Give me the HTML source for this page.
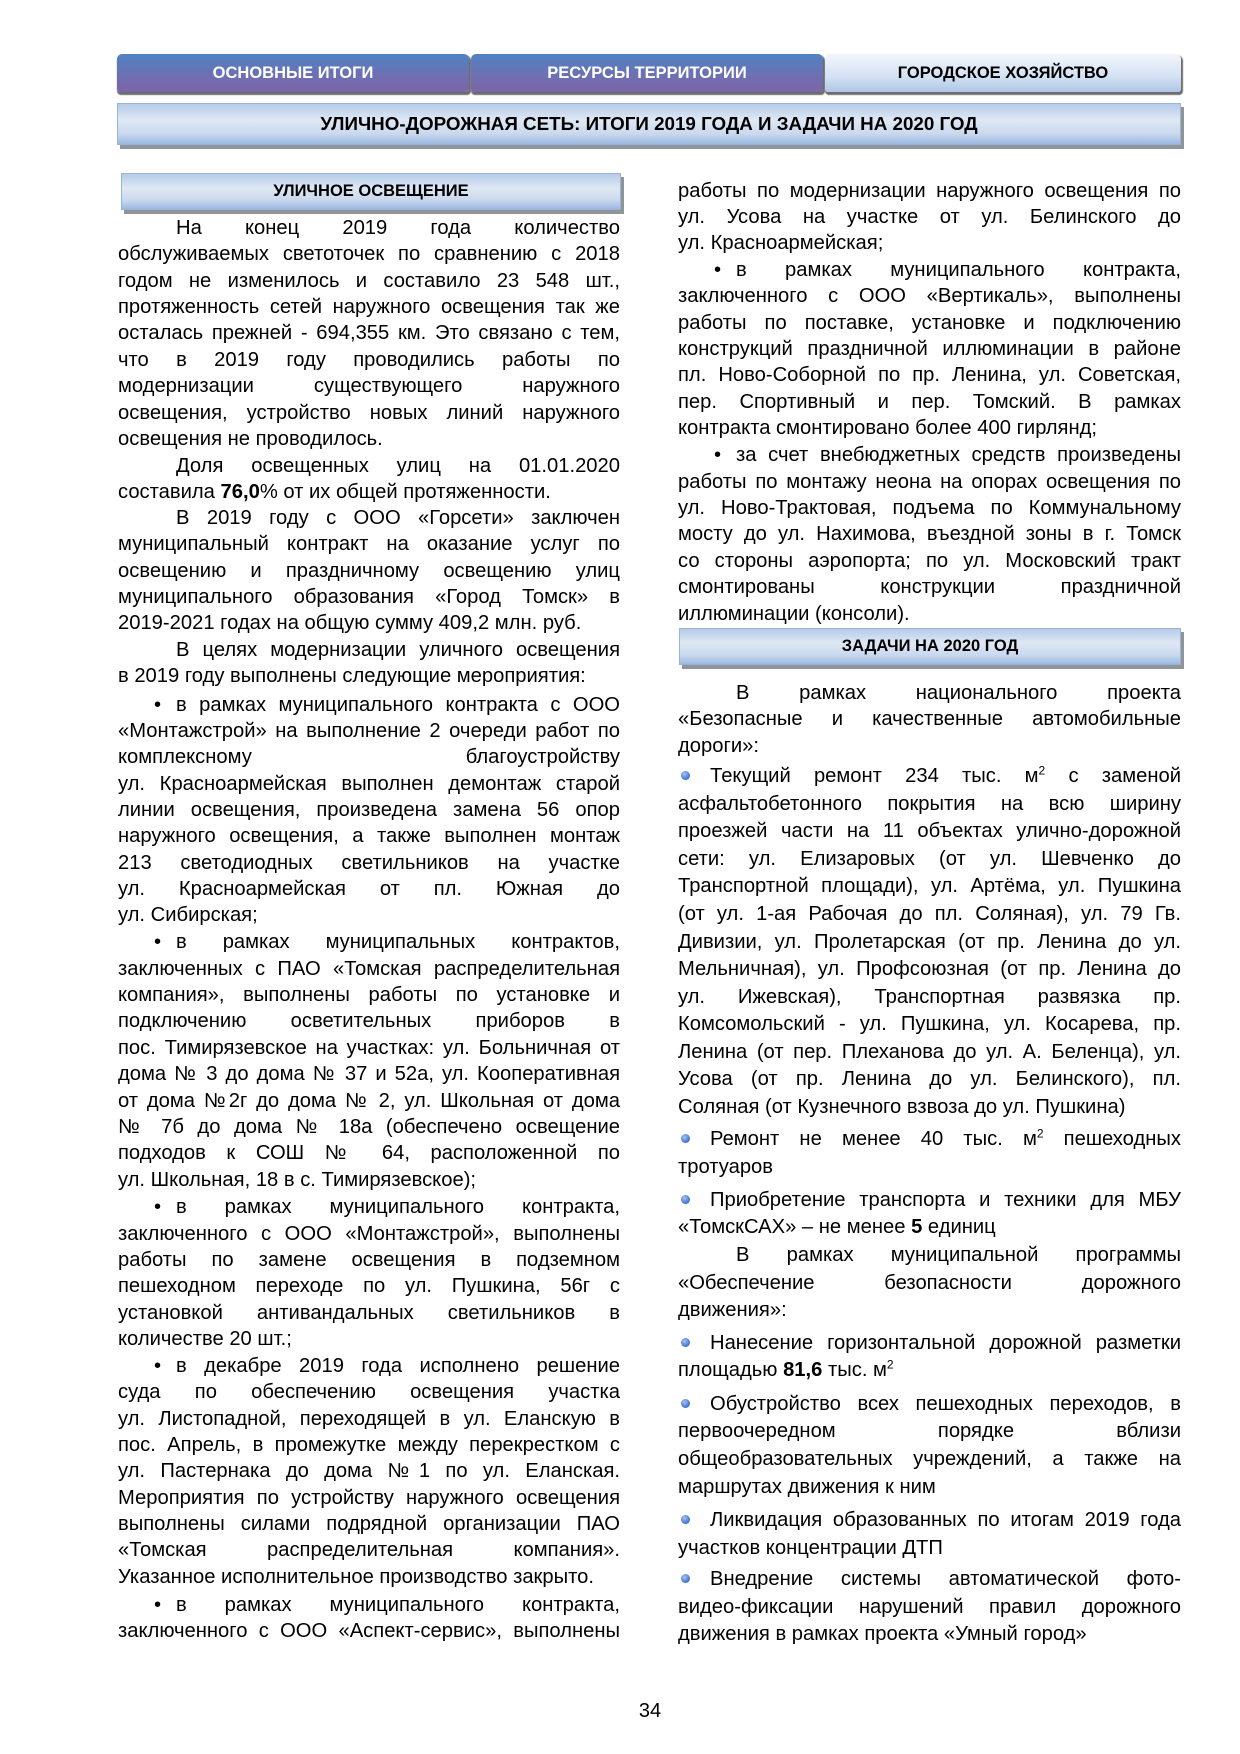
<!DOCTYPE html>
<html><head><meta charset="utf-8"><style>
body{margin:0;background:#fff;width:1240px;height:1754px;position:relative;overflow:hidden;font-family:"Liberation Sans",Arial,sans-serif;color:#000}
.tab{position:absolute;top:54px;height:38px;line-height:38px;text-align:center;font-weight:bold;font-size:16.5px;border-radius:5px 5px 3px 3px;box-shadow:1px 2px 1px 1px #6d6d6d}
.dk{background:linear-gradient(#4f82c2,#6f6fb2 60%,#7c65a6);color:#fff}
.lt{background:linear-gradient(#f2f6fb,#d3e1f2 60%,#aec6e6);color:#000}
.bar{position:absolute;background:linear-gradient(#b5cbe8,#dfe8f4 40%,#c9d8ee 75%,#9bb8e0);border:1px solid #9ab3d6;box-shadow:3px 4px 0 #8f9499;text-align:center;font-weight:bold;color:#000}
.p{position:absolute;font-size:20.2px;line-height:26.36px}
.p>div{text-align:justify;text-align-last:justify}
.p>div.e{text-align-last:left}
.L{left:118px;width:502px}
.R{left:678px;width:503px}
.i{padding-left:58px}
.b{padding-left:36px}
.sq{line-height:27.56px}
.dot{display:inline-block;width:9px;height:9px;border-radius:50%;background:radial-gradient(circle at 40% 35%,#a9c4f0,#3a6fd0 70%);margin:0 20px 2px 3px;vertical-align:middle}
.bu{display:inline-block;width:22px}
sup{font-size:12px;line-height:0}
</style></head><body>
<div class="tab dk" style="left:117px;width:352px">ОСНОВНЫЕ ИТОГИ</div>
<div class="tab dk" style="left:471px;width:352px">РЕСУРСЫ ТЕРРИТОРИИ</div>
<div class="tab lt" style="left:825px;width:356px">ГОРОДСКОЕ ХОЗЯЙСТВО</div>
<div class="bar" style="left:117px;top:103px;width:1062px;height:40px;line-height:40px;font-size:18.8px">УЛИЧНО-ДОРОЖНАЯ СЕТЬ: ИТОГИ 2019 ГОДА И ЗАДАЧИ НА 2020 ГОД</div>
<div class="bar" style="left:121px;top:173px;width:498px;height:35px;line-height:35px;font-size:16.5px">УЛИЧНОЕ ОСВЕЩЕНИЕ</div>
<div class="bar" style="left:679px;top:628px;width:500px;height:35px;line-height:35px;font-size:16.5px">ЗАДАЧИ НА 2020 ГОД</div>

<div class="p L" style="top:215px">
<div class="i">На конец 2019 года количество</div>
<div>обслуживаемых светоточек по сравнению с 2018</div>
<div>годом не изменилось и составило 23 548 шт.,</div>
<div>протяженность сетей наружного освещения так же</div>
<div>осталась прежней - 694,355 км. Это связано с тем,</div>
<div>что в 2019 году проводились работы по</div>
<div>модернизации существующего наружного</div>
<div>освещения, устройство новых линий наружного</div>
<div class="e">освещения не проводилось.</div>
</div>
<div class="p L" style="top:452.6px">
<div class="i">Доля освещенных улиц на 01.01.2020</div>
<div class="e">составила <b>76,0</b>% от их общей протяженности.</div>
</div>
<div class="p L" style="top:505px">
<div class="i">В 2019 году с ООО «Горсети» заключен</div>
<div>муниципальный контракт на оказание услуг по</div>
<div>освещению и праздничному освещению улиц</div>
<div>муниципального образования «Город Томск» в</div>
<div class="e">2019-2021 годах на общую сумму 409,2 млн. руб.</div>
</div>
<div class="p L" style="top:637px">
<div class="i">В целях модернизации уличного освещения</div>
<div class="e">в 2019 году выполнены следующие мероприятия:</div>
</div>
<div class="p L" style="top:691.5px">
<div class="b"><span class="bu">•</span>в рамках муниципального контракта с ООО</div>
<div>«Монтажстрой» на выполнение 2 очереди работ по</div>
<div>комплексному благоустройству</div>
<div>ул. Красноармейская выполнен демонтаж старой</div>
<div>линии освещения, произведена замена 56 опор</div>
<div>наружного освещения, а также выполнен монтаж</div>
<div>213 светодиодных светильников на участке</div>
<div>ул. Красноармейская от пл. Южная до</div>
<div class="e">ул. Сибирская;</div>
</div>
<div class="p L" style="top:929.4px">
<div class="b"><span class="bu">•</span>в рамках муниципальных контрактов,</div>
<div>заключенных с ПАО «Томская распределительная</div>
<div>компания», выполнены работы по установке и</div>
<div>подключению осветительных приборов в</div>
<div>пос. Тимирязевское на участках: ул. Больничная от</div>
<div>дома № 3 до дома № 37 и 52а, ул. Кооперативная</div>
<div>от дома №2г до дома № 2, ул. Школьная от дома</div>
<div>№ 7б до дома № 18а (обеспечено освещение</div>
<div>подходов к СОШ № 64, расположенной по</div>
<div class="e">ул. Школьная, 18 в с. Тимирязевское);</div>
</div>
<div class="p L" style="top:1194.2px">
<div class="b"><span class="bu">•</span>в рамках муниципального контракта,</div>
<div>заключенного с ООО «Монтажстрой», выполнены</div>
<div>работы по замене освещения в подземном</div>
<div>пешеходном переходе по ул. Пушкина, 56г с</div>
<div>установкой антивандальных светильников в</div>
<div class="e">количестве 20 шт.;</div>
</div>
<div class="p L" style="top:1352.8px">
<div class="b"><span class="bu">•</span>в декабре 2019 года исполнено решение</div>
<div>суда по обеспечению освещения участка</div>
<div>ул. Листопадной, переходящей в ул. Еланскую в</div>
<div>пос. Апрель, в промежутке между перекрестком с</div>
<div>ул. Пастернака до дома №1 по ул. Еланская.</div>
<div>Мероприятия по устройству наружного освещения</div>
<div>выполнены силами подрядной организации ПАО</div>
<div>«Томская распределительная компания».</div>
<div class="e">Указанное исполнительное производство закрыто.</div>
</div>
<div class="p L" style="top:1591.8px">
<div class="b"><span class="bu">•</span>в рамках муниципального контракта,</div>
<div>заключенного с ООО «Аспект-сервис», выполнены</div>
</div>

<div class="p R" style="top:177.7px">
<div>работы по модернизации наружного освещения по</div>
<div>ул. Усова на участке от ул. Белинского до</div>
<div class="e">ул. Красноармейская;</div>
</div>
<div class="p R" style="top:257px">
<div class="b"><span class="bu">•</span>в рамках муниципального контракта,</div>
<div>заключенного с ООО «Вертикаль», выполнены</div>
<div>работы по поставке, установке и подключению</div>
<div>конструкций праздничной иллюминации в районе</div>
<div>пл. Ново-Соборной по пр. Ленина, ул. Советская,</div>
<div>пер. Спортивный и пер. Томский. В рамках</div>
<div class="e">контракта смонтировано более 400 гирлянд;</div>
</div>
<div class="p R" style="top:442.4px">
<div class="b"><span class="bu">•</span>за счет внебюджетных средств произведены</div>
<div>работы по монтажу неона на опорах освещения по</div>
<div>ул. Ново-Трактовая, подъема по Коммунальному</div>
<div>мосту до ул. Нахимова, въездной зоны в г. Томск</div>
<div>со стороны аэропорта; по ул. Московский тракт</div>
<div>смонтированы конструкции праздничной</div>
<div class="e">иллюминации (консоли).</div>
</div>
<div class="p R" style="top:680px">
<div class="i">В рамках национального проекта</div>
<div>«Безопасные и качественные автомобильные</div>
<div class="e">дороги»:</div>
</div>
<div class="p R sq" style="top:763.2px">
<div><span class="dot"></span>Текущий ремонт 234 тыс. м<sup>2</sup> с заменой</div>
<div>асфальтобетонного покрытия на всю ширину</div>
<div>проезжей части на 11 объектах улично-дорожной</div>
<div>сети: ул. Елизаровых (от ул. Шевченко до</div>
<div>Транспортной площади), ул. Артёма, ул. Пушкина</div>
<div>(от ул. 1-ая Рабочая до пл. Соляная), ул. 79 Гв.</div>
<div>Дивизии, ул. Пролетарская (от пр. Ленина до ул.</div>
<div>Мельничная), ул. Профсоюзная (от пр. Ленина до</div>
<div>ул. Ижевская), Транспортная развязка пр.</div>
<div>Комсомольский - ул. Пушкина, ул. Косарева, пр.</div>
<div>Ленина (от пер. Плеханова до ул. А. Беленца), ул.</div>
<div>Усова (от пр. Ленина до ул. Белинского), пл.</div>
<div class="e">Соляная (от Кузнечного взвоза до ул. Пушкина)</div>
</div>
<div class="p R sq" style="top:1126.2px">
<div><span class="dot"></span>Ремонт не менее 40 тыс. м<sup>2</sup> пешеходных</div>
<div class="e">тротуаров</div>
</div>
<div class="p R sq" style="top:1186.5px">
<div><span class="dot"></span>Приобретение транспорта и техники для МБУ</div>
<div class="e">«ТомскСАХ» – не менее <b>5</b> единиц</div>
</div>
<div class="p R" style="top:1242.4px;line-height:27.4px">
<div class="i">В рамках муниципальной программы</div>
<div>«Обеспечение безопасности дорожного</div>
<div class="e">движения»:</div>
</div>
<div class="p R sq" style="top:1329.5px">
<div><span class="dot"></span>Нанесение горизонтальной дорожной разметки</div>
<div class="e">площадью <b>81,6</b> тыс. м<sup>2</sup></div>
</div>
<div class="p R sq" style="top:1390.9px">
<div><span class="dot"></span>Обустройство всех пешеходных переходов, в</div>
<div>первоочередном порядке вблизи</div>
<div>общеобразовательных учреждений, а также на</div>
<div class="e">маршрутах движения к ним</div>
</div>
<div class="p R sq" style="top:1507.1px">
<div><span class="dot"></span>Ликвидация образованных по итогам 2019 года</div>
<div class="e">участков концентрации ДТП</div>
</div>
<div class="p R sq" style="top:1566.3px">
<div><span class="dot"></span>Внедрение системы автоматической фото-</div>
<div>видео-фиксации нарушений правил дорожного</div>
<div class="e">движения в рамках проекта «Умный город»</div>
</div>

<div style="position:absolute;left:620px;width:60px;top:1700px;text-align:center;font-size:20px">34</div>
</body></html>
